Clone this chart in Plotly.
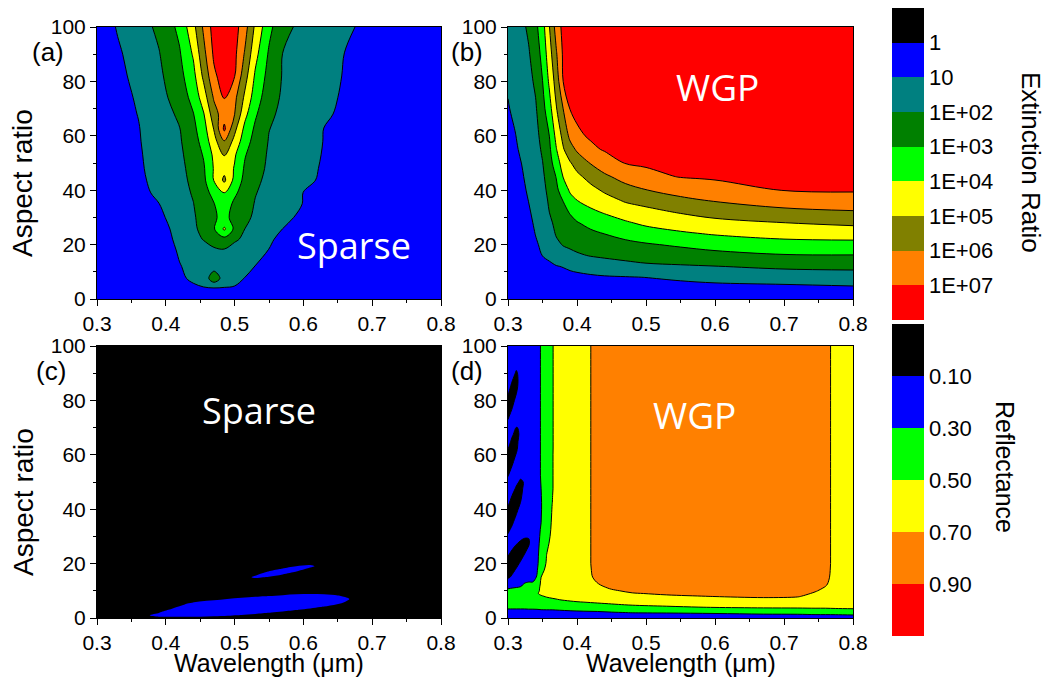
import numpy as np
import plotly.graph_objects as go

W, H = 1045, 679
FONT = "Liberation Sans, Arial, sans-serif"
LABEL_FONT = "Open Sans, sans-serif"

# ---------------- (a) sparse grating: log10(extinction ratio) ----------------
wl_a = [0.30, 0.33, 0.36, 0.39, 0.42, 0.44, 0.455, 0.47, 0.485, 0.50, 0.515, 0.53,
        0.55, 0.57, 0.60, 0.63, 0.66, 0.70, 0.80]
ar_a = [0, 4, 7.6, 12, 18, 22, 25.7, 30, 35, 39, 43.7, 48, 53, 58, 62.5, 68, 74, 82, 90, 100]
log_er_sparse = [
    [0.4, 0.45, 0.5, 0.55, 0.6, 0.63, 0.65, 0.66, 0.66, 0.65, 0.63, 0.6, 0.58, 0.56, 0.53, 0.5, 0.47, 0.44, 0.4],
    [0.4, 0.5, 0.62, 0.74, 0.86, 0.94, 0.96, 0.97, 0.96, 0.93, 0.88, 0.84, 0.8, 0.77, 0.72, 0.67, 0.62, 0.56, 0.4],
    [0.4, 0.53, 0.67, 0.80, 0.94, 1.06, 1.3, 2.7, 1.5, 1.25, 0.98, 0.94, 0.9, 0.86, 0.8, 0.74, 0.68, 0.6, 0.4],
    [0.4, 0.54, 0.69, 0.83, 0.97, 1.17, 1.35, 1.53, 1.6, 1.39, 1.17, 0.99, 0.95, 0.9, 0.84, 0.77, 0.71, 0.62, 0.4],
    [0.4, 0.46, 0.52, 0.6, 1.08, 1.40, 1.63, 1.87, 1.93, 1.61, 1.41, 1.2, 0.99, 0.94, 0.87, 0.80, 0.73, 0.64, 0.4],
    [0.4, 0.45, 0.5, 0.55, 1.23, 1.70, 2.05, 2.40, 2.7, 2.16, 1.80, 1.51, 1.06, 0.9, 0.89, 0.82, 0.75, 0.65, 0.4],
    [0.4, 0.48, 0.55, 0.62, 1.33, 1.81, 2.29, 2.92, 4.15, 2.79, 1.99, 1.71, 1.33, 0.99, 0.91, 0.83, 0.76, 0.66, 0.4],
    [0.4, 0.52, 0.65, 0.80, 1.46, 1.89, 2.36, 2.89, 3.25, 2.72, 2.21, 1.85, 1.51, 1.17, 0.85, 0.8, 0.75, 0.67, 0.4],
    [0.4, 0.60, 0.80, 0.99, 1.58, 1.98, 2.47, 2.97, 3.5, 2.82, 2.36, 1.95, 1.65, 1.34, 0.98, 0.89, 0.80, 0.69, 0.4],
    [0.4, 0.61, 0.83, 1.11, 1.67, 2.08, 2.65, 3.28, 3.98, 3.16, 2.57, 2.04, 1.72, 1.43, 0.99, 0.91, 0.82, 0.7, 0.4],
    [0.4, 0.63, 0.86, 1.21, 1.74, 2.19, 2.77, 4.05, 5.2, 3.7, 2.71, 2.18, 1.79, 1.51, 1.10, 0.93, 0.84, 0.72, 0.4],
    [0.4, 0.64, 0.89, 1.27, 1.78, 2.28, 2.88, 4.08, 4.7, 3.92, 2.86, 2.32, 1.85, 1.58, 1.16, 0.94, 0.85, 0.72, 0.4],
    [0.4, 0.66, 0.91, 1.33, 1.83, 2.42, 3.08, 4.21, 5.02, 4.12, 3.07, 2.46, 1.89, 1.63, 1.24, 0.96, 0.86, 0.73, 0.4],
    [0.4, 0.67, 0.94, 1.39, 1.90, 2.58, 3.38, 4.64, 5.95, 4.7, 3.43, 2.64, 1.95, 1.70, 1.32, 0.98, 0.88, 0.74, 0.4],
    [0.4, 0.68, 0.96, 1.45, 1.97, 2.75, 3.6, 5.05, 7.2, 5.25, 3.73, 2.83, 2.02, 1.75, 1.38, 0.99, 0.89, 0.75, 0.4],
    [0.4, 0.71, 1.02, 1.54, 2.16, 2.96, 3.93, 5.56, 6.6, 6.02, 4.27, 3.14, 2.18, 1.80, 1.44, 1.07, 0.91, 0.77, 0.4],
    [0.4, 0.73, 1.09, 1.66, 2.44, 3.31, 4.5, 6.12, 7.02, 6.25, 4.8, 3.5, 2.41, 1.87, 1.51, 1.14, 0.93, 0.78, 0.4],
    [0.4, 0.78, 1.25, 1.81, 2.69, 3.69, 5.22, 6.8, 7.5, 7.03, 5.38, 3.86, 2.65, 1.94, 1.59, 1.24, 0.96, 0.8, 0.4],
    [0.4, 0.87, 1.40, 1.95, 2.90, 4.11, 5.7, 7.17, 7.8, 7.23, 5.89, 4.3, 2.87, 1.98, 1.67, 1.33, 0.99, 0.83, 0.4],
    [0.4, 1.07, 1.59, 2.19, 3.24, 4.7, 6.17, 7.4, 8.0, 7.4, 6.38, 4.82, 3.27, 2.27, 1.74, 1.41, 1.09, 0.85, 0.4],
]

# ---------------- (b) wire-grid polarizer: log10(extinction ratio), one list per wavelength ----------------
wl_b = [0.30, 0.31, 0.32, 0.33, 0.34, 0.35, 0.36, 0.37, 0.38, 0.39, 0.40, 0.42, 0.44, 0.47,
        0.50, 0.55, 0.60, 0.70, 0.80]
ar_b = [0, 4, 8, 12, 16, 20, 24, 28, 32, 36, 40, 45, 50, 55, 60, 70, 80, 90, 100]
log_er_wgp_by_wl = [
    [0.3, 0.34, 0.38, 0.41, 0.45, 0.49, 0.53, 0.56, 0.60, 0.64, 0.68, 0.73, 0.77, 0.82, 0.87, 0.96, 1.07, 1.18, 1.3],
    [0.3, 0.345, 0.39, 0.435, 0.48, 0.525, 0.57, 0.615, 0.66, 0.705, 0.75, 0.81, 0.86, 0.92, 0.97, 1.12, 1.28, 1.44, 1.6],
    [0.3, 0.36, 0.41, 0.47, 0.53, 0.58, 0.64, 0.70, 0.75, 0.81, 0.87, 0.94, 1.01, 1.09, 1.17, 1.33, 1.48, 1.64, 1.8],
    [0.3, 0.38, 0.46, 0.54, 0.62, 0.69, 0.77, 0.85, 0.93, 1.01, 1.08, 1.16, 1.24, 1.33, 1.41, 1.58, 1.75, 1.92, 2.15],
    [0.3, 0.42, 0.55, 0.67, 0.79, 0.92, 1.02, 1.10, 1.18, 1.25, 1.33, 1.43, 1.52, 1.62, 1.71, 1.90, 2.15, 2.45, 2.75],
    [0.3, 0.48, 0.65, 0.83, 1.01, 1.12, 1.23, 1.35, 1.46, 1.57, 1.69, 1.83, 1.97, 2.14, 2.31, 2.66, 2.98, 3.3, 3.6],
    [0.3, 0.5, 0.7, 0.9, 1.11, 1.33, 1.56, 1.78, 2.01, 2.14, 2.29, 2.46, 2.64, 2.82, 3.01, 3.63, 4.17, 4.58, 4.98],
    [0.3, 0.52, 0.74, 0.97, 1.36, 1.79, 2.09, 2.27, 2.44, 2.62, 2.80, 3.04, 3.50, 3.95, 4.29, 4.94, 5.43, 5.9, 6.4],
    [0.3, 0.54, 0.77, 1.03, 1.58, 2.06, 2.29, 2.53, 2.76, 3.01, 3.47, 4.04, 4.48, 4.91, 5.29, 6.01, 7.01, 7.15, 7.3],
    [0.3, 0.55, 0.8, 1.13, 1.75, 2.17, 2.46, 2.75, 3.07, 3.65, 4.13, 4.52, 4.92, 5.62, 6.24, 7.04, 7.23, 7.41, 7.6],
    [0.3, 0.56, 0.82, 1.22, 1.88, 2.28, 2.61, 2.94, 3.44, 3.97, 4.34, 4.78, 5.38, 6.14, 6.86, 7.18, 7.39, 7.59, 7.8],
    [0.3, 0.59, 0.87, 1.39, 2.05, 2.43, 2.81, 3.28, 3.83, 4.3, 4.72, 5.34, 6.06, 6.84, 7.1, 7.35, 7.6, 7.85, 8.1],
    [0.3, 0.61, 0.92, 1.54, 2.15, 2.57, 3.01, 3.55, 4.09, 4.61, 5.14, 5.82, 6.59, 7.07, 7.2, 7.48, 7.75, 8.03, 8.3],
    [0.3, 0.63, 0.96, 1.69, 2.29, 2.76, 3.29, 3.88, 4.48, 5.07, 5.63, 6.38, 7.03, 7.18, 7.32, 7.62, 7.91, 8.21, 8.5],
    [0.3, 0.65, 1.01, 1.83, 2.41, 2.91, 3.56, 4.19, 4.75, 5.28, 5.97, 6.77, 7.11, 7.26, 7.41, 7.7, 8.0, 8.3, 8.6],
    [0.3, 0.69, 1.15, 1.91, 2.52, 3.14, 3.86, 4.48, 5.08, 5.73, 6.38, 7.04, 7.2, 7.36, 7.52, 7.84, 8.16, 8.48, 8.8],
    [0.3, 0.74, 1.28, 1.98, 2.68, 3.39, 4.08, 4.75, 5.35, 6.03, 6.7, 7.1, 7.27, 7.43, 7.59, 7.92, 8.24, 8.57, 8.9],
    [0.3, 0.78, 1.42, 2.19, 2.93, 3.65, 4.34, 4.99, 5.74, 6.44, 7.02, 7.19, 7.35, 7.52, 7.68, 8.01, 8.34, 8.67, 9.0],
    [0.3, 0.87, 1.53, 2.24, 2.96, 3.69, 4.44, 5.2, 5.91, 6.65, 7.07, 7.23, 7.39, 7.55, 7.71, 8.03, 8.36, 8.68, 9.1],
]

# ---------------- (c) sparse grating: reflectance, one list per wavelength ----------------
wl_c = [0.30, 0.35, 0.37, 0.39, 0.41, 0.43, 0.45, 0.47, 0.49, 0.51, 0.53, 0.55, 0.57,
        0.59, 0.61, 0.63, 0.65, 0.67, 0.69, 0.75, 0.80]
ar_c = [0, 1, 2, 3, 4, 5, 6, 7, 8, 9, 10, 11, 13, 14, 15, 16, 17, 18, 19, 20, 21, 25, 100]
refl_sparse_by_wl = [
    [0.04] * 23,
    [0.05, 0.06, 0.05] + [0.04] * 20,
    [0.07, 0.095, 0.08, 0.06] + [0.04] * 19,
    [0.09, 0.11, 0.098, 0.078, 0.058] + [0.04] * 18,
    [0.09, 0.11, 0.13, 0.11, 0.09, 0.07, 0.05] + [0.04] * 16,
    [0.09, 0.11, 0.13, 0.144, 0.124, 0.104, 0.084, 0.064, 0.044] + [0.04] * 14,
    [0.09, 0.11, 0.13, 0.15, 0.14, 0.12, 0.102, 0.082, 0.062, 0.042] + [0.04] * 13,
    [0.088, 0.108, 0.128, 0.148, 0.15, 0.13, 0.11, 0.09, 0.07, 0.05] + [0.04] * 13,
    [0.084, 0.104, 0.124, 0.144, 0.16, 0.14, 0.12, 0.101, 0.081, 0.061, 0.041] + [0.04] * 12,
    [0.078, 0.098, 0.118, 0.138, 0.158, 0.148, 0.128, 0.108, 0.088, 0.068, 0.048, 0.04,
     0.04, 0.06, 0.07, 0.05, 0.04, 0.04, 0.04, 0.04, 0.04, 0.04, 0.04],
    [0.07, 0.09, 0.11, 0.13, 0.15, 0.156, 0.136, 0.116, 0.096, 0.076, 0.056, 0.04,
     0.04, 0.071, 0.111, 0.09, 0.05, 0.04, 0.04, 0.04, 0.04, 0.04, 0.04],
    [0.062, 0.082, 0.102, 0.122, 0.142, 0.162, 0.142, 0.122, 0.102, 0.082, 0.062, 0.042,
     0.04, 0.052, 0.092, 0.132, 0.107, 0.067, 0.04, 0.04, 0.04, 0.04, 0.04],
    [0.052, 0.072, 0.092, 0.112, 0.132, 0.152, 0.148, 0.128, 0.108, 0.088, 0.068, 0.048,
     0.04, 0.04, 0.059, 0.099, 0.139, 0.109, 0.069, 0.04, 0.04, 0.04, 0.04],
    [0.04, 0.062, 0.082, 0.102, 0.122, 0.142, 0.154, 0.134, 0.114, 0.094, 0.074, 0.054,
     0.04, 0.04, 0.04, 0.056, 0.096, 0.136, 0.102, 0.062, 0.04, 0.04, 0.04],
    [0.04, 0.05, 0.07, 0.09, 0.11, 0.13, 0.15, 0.136, 0.116, 0.096, 0.076, 0.056,
     0.04, 0.04, 0.04, 0.04, 0.04, 0.078, 0.118, 0.079, 0.04, 0.04, 0.04],
    [0.04, 0.04, 0.056, 0.076, 0.096, 0.116, 0.136, 0.134, 0.114, 0.094, 0.074, 0.054,
     0.04, 0.04, 0.04, 0.04, 0.04, 0.04, 0.06, 0.07, 0.04, 0.04, 0.04],
    [0.04, 0.04, 0.04, 0.06, 0.08, 0.098, 0.118, 0.126, 0.106, 0.086, 0.066, 0.046] + [0.04] * 11,
    [0.04, 0.04, 0.04, 0.04, 0.05, 0.07, 0.085, 0.095, 0.085, 0.07, 0.05, 0.04] + [0.04] * 11,
    [0.04, 0.04, 0.04, 0.04, 0.04, 0.05, 0.06, 0.07, 0.06, 0.05, 0.04, 0.04] + [0.04] * 11,
    [0.04] * 23,
    [0.04] * 23,
]

# ---------------- (d) wire-grid polarizer: reflectance, one list per wavelength ----------------
# (rows 0..11 in steps of 1, then 12.5..100 in steps of 2.5)
wl_d = [0.300, 0.306, 0.312, 0.318, 0.324, 0.330, 0.336, 0.342, 0.348, 0.356, 0.364, 0.375,
        0.39, 0.41, 0.43, 0.45, 0.48, 0.53, 0.60, 0.67, 0.72, 0.745, 0.76, 0.775, 0.80]
ar_d = [0, 1, 2, 3, 4, 5, 6, 7, 8, 9, 10, 11,
        12.5, 15, 17.5, 20, 22.5, 25, 27.5, 30, 32.5, 35, 37.5, 40, 42.5, 45, 47.5, 50,
        52.5, 55, 57.5, 60, 62.5, 65, 67.5, 70, 72.5, 75, 77.5, 80, 82.5, 85, 87.5, 90,
        92.5, 95, 97.5, 100]
refl_wgp_by_wl = [
    # 0.300
    [0.2, 0.23, 0.26, 0.29, 0.32, 0.36, 0.37, 0.38, 0.37, 0.35, 0.33, 0.29,
     0.2, 0.08, 0.03, 0.05, 0.095, 0.15, 0.2, 0.12, 0.07, 0.03, 0.03, 0.08, 0.13, 0.18, 0.2, 0.14,
     0.09, 0.04, 0.03, 0.06, 0.11, 0.16, 0.2, 0.16, 0.11, 0.06, 0.03, 0.06, 0.11, 0.16, 0.2, 0.2,
     0.2, 0.2, 0.2, 0.2],
    # 0.306
    [0.2, 0.23, 0.26, 0.29, 0.32, 0.36, 0.37, 0.38, 0.37, 0.36, 0.34, 0.3,
     0.22, 0.12, 0.07, 0.03, 0.05, 0.098, 0.15, 0.18, 0.13, 0.08, 0.03, 0.03, 0.05, 0.098, 0.15, 0.2,
     0.17, 0.12, 0.07, 0.03, 0.03, 0.07, 0.12, 0.17, 0.19, 0.14, 0.09, 0.04, 0.03, 0.06, 0.11, 0.16,
     0.2, 0.2, 0.2, 0.2],
    # 0.312
    [0.2, 0.23, 0.26, 0.29, 0.32, 0.36, 0.37, 0.38, 0.38, 0.37, 0.35, 0.31,
     0.24, 0.17, 0.116, 0.066, 0.03, 0.06, 0.11, 0.16, 0.2, 0.16, 0.11, 0.06, 0.03, 0.03, 0.08, 0.13,
     0.18, 0.2, 0.16, 0.11, 0.06, 0.03, 0.05, 0.098, 0.13, 0.2, 0.2, 0.15, 0.097, 0.05, 0.03, 0.08,
     0.13, 0.18, 0.2, 0.2],
    # 0.318
    [0.2, 0.23, 0.26, 0.29, 0.32, 0.36, 0.37, 0.38, 0.38, 0.37, 0.36, 0.32,
     0.26, 0.2, 0.17, 0.116, 0.066, 0.032, 0.082, 0.132, 0.18, 0.2, 0.2, 0.15, 0.098, 0.05, 0.03, 0.08,
     0.13, 0.18, 0.2, 0.2, 0.2, 0.2, 0.13, 0.105, 0.12, 0.17, 0.2, 0.2, 0.2, 0.2, 0.2, 0.15,
     0.17, 0.2, 0.2, 0.2],
    # 0.324
    [0.2, 0.23, 0.26, 0.29, 0.32, 0.36, 0.37, 0.38, 0.38, 0.37, 0.37, 0.34,
     0.31, 0.22, 0.2, 0.17, 0.12, 0.07, 0.064, 0.114, 0.164, 0.2, 0.2, 0.2, 0.2, 0.2, 0.16, 0.11,
     0.12, 0.18] + [0.2] * 18,
    # 0.330
    [0.2, 0.23, 0.26, 0.29, 0.33, 0.37, 0.4, 0.42, 0.41, 0.4, 0.39, 0.36,
     0.32, 0.25, 0.22, 0.2, 0.17, 0.13, 0.08, 0.11, 0.16] + [0.2] * 27,
    # 0.336
    [0.2, 0.23, 0.26, 0.29, 0.33, 0.37, 0.41, 0.44, 0.46, 0.45, 0.42, 0.38,
     0.32, 0.255, 0.225, 0.21] + [0.2] * 32,
    # 0.342
    [0.2, 0.23, 0.26, 0.29, 0.34, 0.38, 0.42, 0.46, 0.49, 0.49, 0.46, 0.43,
     0.38, 0.31, 0.285, 0.27, 0.27, 0.27, 0.265, 0.26, 0.26, 0.26, 0.26, 0.26] + [0.25] * 24,
    # 0.348
    [0.2, 0.23, 0.27, 0.297, 0.35, 0.39, 0.43, 0.46, 0.49, 0.52, 0.53, 0.54,
     0.53, 0.5, 0.44, 0.38, 0.36, 0.34, 0.33, 0.32, 0.31, 0.3, 0.295, 0.29, 0.29, 0.295, 0.3, 0.305,
     0.31] + [0.31] * 19,
    # 0.356
    [0.2, 0.23, 0.27, 0.3, 0.36, 0.41, 0.44, 0.48, 0.51, 0.55, 0.57, 0.58,
     0.58, 0.565, 0.55, 0.52, 0.505, 0.49, 0.47, 0.45, 0.44, 0.43, 0.42, 0.41] + [0.41] * 24,
    # 0.364
    [0.2, 0.23, 0.27, 0.3, 0.36, 0.41, 0.45, 0.49, 0.53, 0.57, 0.59, 0.6,
     0.6, 0.595, 0.585, 0.57, 0.56, 0.55, 0.54, 0.53, 0.52, 0.515, 0.51, 0.505, 0.498, 0.495,
     0.49] + [0.49] * 21,
    # 0.375
    [0.2, 0.24, 0.27, 0.305, 0.37, 0.43, 0.475, 0.51, 0.54, 0.56, 0.57, 0.58] + [0.58] * 20 + [0.57] * 16,
    # 0.39
    [0.2, 0.24, 0.28, 0.31, 0.38, 0.44, 0.49, 0.53, 0.56, 0.58, 0.59, 0.6] + [0.6] * 36,
    # 0.41
    [0.2, 0.24, 0.28, 0.32, 0.39, 0.45, 0.51, 0.55, 0.58, 0.6, 0.61, 0.62,
     0.62, 0.63, 0.635] + [0.64] * 33,
    # 0.43
    [0.2, 0.24, 0.28, 0.33, 0.4, 0.47, 0.53, 0.57, 0.6, 0.62, 0.64, 0.66,
     0.695, 0.74, 0.755] + [0.76] * 33,
    # 0.45
    [0.2, 0.25, 0.29, 0.35, 0.42, 0.49, 0.55, 0.59, 0.62, 0.65, 0.68, 0.715,
     0.75, 0.79] + [0.8] * 34,
    # 0.48
    [0.2, 0.25, 0.305, 0.37, 0.45, 0.52, 0.57, 0.61, 0.65, 0.69, 0.73, 0.76,
     0.79] + [0.82] * 35,
    # 0.53
    [0.2, 0.25, 0.31, 0.39, 0.48, 0.54, 0.59, 0.63, 0.68, 0.72, 0.76, 0.78,
     0.8] + [0.82] * 35,
    # 0.60
    [0.2, 0.26, 0.32, 0.42, 0.51, 0.56, 0.61, 0.66, 0.705, 0.74, 0.77, 0.79,
     0.8] + [0.82] * 35,
    # 0.67
    [0.2, 0.27, 0.34, 0.45, 0.52, 0.57, 0.62, 0.68, 0.72, 0.75, 0.77, 0.79,
     0.8] + [0.82] * 35,
    # 0.72
    [0.2, 0.27, 0.35, 0.46, 0.52, 0.57, 0.62, 0.67, 0.71, 0.74, 0.76, 0.78,
     0.8] + [0.82] * 35,
    # 0.745
    [0.2, 0.28, 0.36, 0.47, 0.52, 0.56, 0.6, 0.63, 0.66, 0.685, 0.71, 0.73,
     0.76, 0.79] + [0.8] * 34,
    # 0.76
    [0.2, 0.28, 0.36, 0.47, 0.52, 0.55, 0.58, 0.61, 0.63, 0.65, 0.67, 0.69,
     0.715, 0.74, 0.752] + [0.76] * 33,
    # 0.775
    [0.2, 0.28, 0.37, 0.48, 0.52, 0.55, 0.57, 0.59, 0.6, 0.61, 0.62, 0.63] + [0.64] * 36,
    # 0.80
    [0.2, 0.29, 0.38, 0.48, 0.53, 0.56, 0.58, 0.59, 0.6, 0.6, 0.6, 0.6] + [0.6] * 36,
]

# ---------------- colour levels ----------------
er_levels = [0, 1, 2, 3, 4, 5, 6, 7]                      # log10 of extinction ratio
er_labels = ["1", "10", "1E+02", "1E+03", "1E+04", "1E+05", "1E+06", "1E+07"]
er_colors = ["#FF0000", "#FF8000", "#808000", "#FFFF00", "#00FF00", "#008000",
             "#008080", "#0000FF", "#000000"]            # high -> low
refl_levels = [0.1, 0.3, 0.5, 0.7, 0.9]
refl_labels = ["0.10", "0.30", "0.50", "0.70", "0.90"]
refl_colors = ["#FF0000", "#FF8000", "#FFFF00", "#00FF00", "#0000FF", "#000000"]  # high -> low


def scale(colors):
    n = len(colors) - 1
    return [[i / n, c] for i, c in enumerate(colors)]


# values are plotted negated so that the colour bars run from low (top) to high (bottom)
ER_CONT = dict(start=-7, end=0, size=1)
RF_CONT = dict(start=-0.9, end=-0.1, size=0.2)


def er_trace(x, y, z, xa, ya, lines=True, coloring="fill", **kw):
    return go.Contour(x=x, y=y, z=-np.asarray(z, dtype=float), xaxis=xa, yaxis=ya,
                      autocontour=False, contours=dict(ER_CONT, coloring=coloring, showlines=lines),
                      colorscale=scale(er_colors), zmin=-8, zmax=1,
                      line=dict(color="black", width=1, smoothing=1),
                      hoverinfo="skip", **kw)


def rf_trace(x, y, z, xa, ya, lines=True, coloring="fill", **kw):
    return go.Contour(x=x, y=y, z=-np.asarray(z, dtype=float), xaxis=xa, yaxis=ya,
                      autocontour=False, contours=dict(RF_CONT, coloring=coloring, showlines=lines),
                      colorscale=scale(refl_colors), zmin=-1.1, zmax=0.1,
                      line=dict(color="black", width=1, smoothing=1),
                      hoverinfo="skip", **kw)


def colorbar(y_center_px, tickvals, ticktext):
    return dict(x=892 / W, xanchor="left", xpad=0, y=1 - y_center_px / H, yanchor="middle",
                ypad=0, len=312, lenmode="pixels", thickness=32, thicknessmode="pixels",
                outlinewidth=0, tickmode="array", tickvals=tickvals, ticktext=ticktext,
                ticks="", tickfont=dict(family=FONT, size=22, color="black"))


z_b = np.asarray(log_er_wgp_by_wl).T
z_c = np.asarray(refl_sparse_by_wl).T
z_d = np.asarray(refl_wgp_by_wl).T

traces = [
    er_trace(wl_a, ar_a, log_er_sparse, "x", "y", showscale=False),
    er_trace(wl_b, ar_b, z_b, "x2", "y2", lines=False, showscale=True,
             colorbar=colorbar(164, [-v for v in er_levels], er_labels)),
    er_trace(wl_b, ar_b, z_b, "x2", "y2", lines=True, coloring="none", showscale=False),
    rf_trace(wl_c, ar_c, z_c, "x3", "y3", lines=False, showscale=True,
             colorbar=colorbar(480, [-v for v in refl_levels], refl_labels)),
    rf_trace(wl_d, ar_d, z_d, "x4", "y4", showscale=False),
]

fig = go.Figure(traces)

TICKFONT = dict(family=FONT, size=21, color="black")


def xaxis(dom, anchor):
    return dict(domain=dom, anchor=anchor, range=[0.3, 0.8], tick0=0.3, dtick=0.1, tickformat=".1f",
                ticks="outside", ticklen=6, tickwidth=1, tickcolor="black",
                minor=dict(ticks="outside", ticklen=3, tickwidth=1, tickcolor="black", dtick=0.05, tick0=0.3),
                showline=True, linecolor="black", linewidth=1, mirror=True,
                showgrid=False, zeroline=False, tickfont=TICKFONT)


def yaxis(dom, anchor):
    return dict(domain=dom, anchor=anchor, range=[0, 100], tick0=0, dtick=20,
                ticks="outside", ticklen=6, tickwidth=1, tickcolor="black",
                minor=dict(ticks="outside", ticklen=3, tickwidth=1, tickcolor="black", dtick=10),
                showline=True, linecolor="black", linewidth=1, mirror=True,
                showgrid=False, zeroline=False, tickfont=TICKFONT)


def top_ticks(base, anchor):
    return dict(overlaying=base, anchor=anchor, side="top", range=[0.3, 0.8], tick0=0.3, dtick=0.1,
                ticks="inside", ticklen=6, tickwidth=1, tickcolor="black", showticklabels=False,
                minor=dict(ticks="inside", ticklen=3, tickwidth=1, tickcolor="black", dtick=0.05, tick0=0.3),
                showline=False, showgrid=False, zeroline=False)


def right_ticks(base, anchor):
    return dict(overlaying=base, anchor=anchor, side="right", range=[0, 100], tick0=0, dtick=20,
                ticks="inside", ticklen=6, tickwidth=1, tickcolor="black", showticklabels=False,
                minor=dict(ticks="inside", ticklen=3, tickwidth=1, tickcolor="black", dtick=10),
                showline=False, showgrid=False, zeroline=False)


left = [97 / W, 441 / W]
right = [508 / W, 853 / W]
top = [1 - 299 / H, 1 - 27 / H]
bottom = [1 - 618 / H, 1 - 346 / H]


def ann(text, px, py, size, family=FONT, color="black", angle=0):
    return dict(text=text, x=px / W, y=1 - py / H, xref="paper", yref="paper",
                xanchor="center", yanchor="middle", showarrow=False, textangle=angle,
                font=dict(family=family, size=size, color=color))


annotations = [
    ann("(a)", 48, 52, 26), ann("(b)", 467, 52, 26),
    ann("(c)", 51, 371, 26), ann("(d)", 467, 371, 26),
    ann("Sparse", 354, 245, 36, LABEL_FONT, "white"),
    ann("WGP", 717, 86, 37, LABEL_FONT, "white"),
    ann("Sparse", 259, 410, 36, LABEL_FONT, "white"),
    ann("WGP", 694, 414, 37, LABEL_FONT, "white"),
    ann("Aspect ratio", 23, 183, 28, angle=-90),
    ann("Aspect ratio", 23, 502, 28, angle=-90),
    ann("Wavelength (\u03bcm)", 269, 663, 25),
    ann("Wavelength (\u03bcm)", 681, 663, 25),
    ann("Extinction Ratio", 1031, 162, 26, angle=90),
    ann("Reflectance", 1005, 467, 25, angle=90),
]

fig.update_layout(
    width=W, height=H, margin=dict(l=0, r=0, t=0, b=0, pad=0, autoexpand=False),
    paper_bgcolor="white", plot_bgcolor="white", showlegend=False,
    font=dict(family=FONT, color="black"),
    xaxis=xaxis(left, "y"), yaxis=yaxis(top, "x"),
    xaxis2=xaxis(right, "y2"), yaxis2=yaxis(top, "x2"),
    xaxis3=xaxis(left, "y3"), yaxis3=yaxis(bottom, "x3"),
    xaxis4=xaxis(right, "y4"), yaxis4=yaxis(bottom, "x4"),
    xaxis5=top_ticks("x", "y"), yaxis5=right_ticks("y", "x"),
    xaxis6=top_ticks("x2", "y2"), yaxis6=right_ticks("y2", "x2"),
    xaxis7=top_ticks("x3", "y3"), yaxis7=right_ticks("y3", "x3"),
    xaxis8=top_ticks("x4", "y4"), yaxis8=right_ticks("y4", "x4"),
    annotations=annotations,
)

fig.write_html("out.html", config={"responsive": False},
               post_script="document.body.style.margin='0';document.body.style.overflow='hidden';")
